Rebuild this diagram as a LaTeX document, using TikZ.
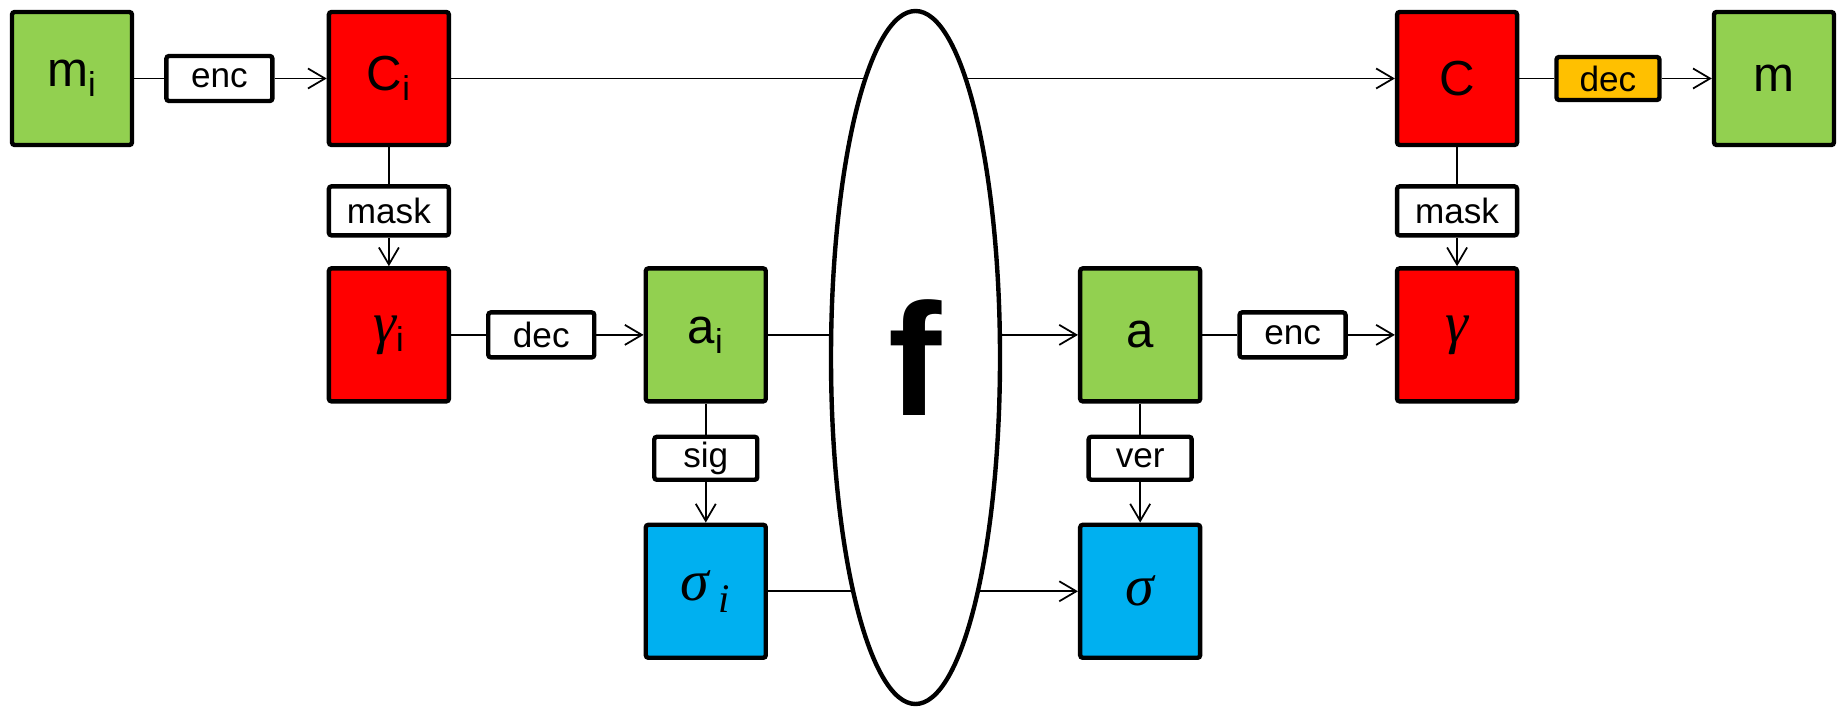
\documentclass[tikz,border=0pt]{standalone}
\usepackage{fontspec}
\setmainfont{Liberation Sans}
\newfontfamily\grk{Liberation Serif}
\usetikzlibrary{arrows.meta,positioning,shapes.geometric}
\definecolor{grn}{HTML}{92D050}
\definecolor{rd}{HTML}{FF0000}
\definecolor{blu}{HTML}{00B0F0}
\definecolor{org}{HTML}{FFC000}
\newcommand{\grl}[1]{{\grk\itshape\fontsize{33}{36}\selectfont #1}}

\begin{document}
\begin{tikzpicture}[node distance=2.38cm and 3.85cm, line width=1pt,
  blk/.style={draw,line width=2.5pt,rounded corners=1.5pt,minimum width=2.4cm,minimum height=2.66cm,inner sep=0pt,font=\fontsize{28}{34}\selectfont},
  op/.style={draw,fill=white,line width=2.5pt,rounded corners=1.5pt,minimum width=2.12cm,minimum height=0.9cm,inner sep=0pt,font=\fontsize{20}{24}\selectfont},
  wide/.style={minimum width=2.4cm,minimum height=0.98cm},
  slim/.style={minimum width=2.06cm,minimum height=0.86cm},
  >={Straight Barb[length=3.4mm,width=4mm]}]
\useasboundingbox (-1.44,1.57) rectangle (35.3,-12.61);
% blocks
\node[blk,fill=grn] (mi) {m\textsubscript{i}};
\node[blk,fill=rd,right=of mi] (Ci) {C\textsubscript{i}};
\node[blk,fill=rd,below=of Ci] (gi) {\grl{γ}\textsubscript{i}};
\node[blk,fill=grn,right=of gi] (ai) {a\textsubscript{i}};
\node[blk,fill=blu,below=of ai] (si) {\grl{σ\,\textsubscript{i}}};
\node[blk,fill=grn,right=6.2cm of ai] (a) {a};
\node[blk,fill=blu,below=of a] (s) {\grl{σ}};
\node[blk,fill=rd,right=of a] (g) {\grl{γ}};
\node[blk,fill=rd,above=of g] (C) {C};
\node[blk,fill=grn,right=of C] (m) {m};
% operations
\node[op,right=6mm of mi] (enc1) {enc};
\node[op,wide,below=7.4mm of Ci] (mask1) {mask};
\node[op,right=7mm of gi] (dec1) {dec};
\node[op,slim,below=6.2mm of ai] (sig) {sig};
\node[op,slim,below=6.2mm of a] (ver) {ver};
\node[op,right=7mm of a] (enc2) {enc};
\node[op,wide,below=7.4mm of C] (mask2) {mask};
\node[op,slim,fill=org,right=7mm of C] (dec2) {dec};
% connectors
\draw (mi) -- (enc1);
\draw[->] (enc1) -- (Ci);
\draw (Ci) -- (mask1);
\draw[->] (mask1) -- (gi);
\draw (gi) -- (dec1);
\draw[->] (dec1) -- (ai);
\draw (ai) -- (sig);
\draw[->] (sig) -- (si);
\draw[->] (Ci) -- (C);
\draw[->] (ai) -- (a);
\draw[->] (si) -- (s);
\draw (a) -- (ver);
\draw[->] (ver) -- (s);
\draw (a) -- (enc2);
\draw[->] (enc2) -- (g);
\draw (C) -- (mask2);
\draw[->] (mask2) -- (g);
\draw (C) -- (dec2);
\draw[->] (dec2) -- (m);
% the function
\node[draw,ellipse,fill=white,line width=2.5pt,minimum width=3.38cm,minimum height=13.86cm,inner sep=0pt,font=\fontsize{91}{100}\selectfont\bfseries] (f) at (16.87,-5.58) {f};
\end{tikzpicture}
\end{document}
